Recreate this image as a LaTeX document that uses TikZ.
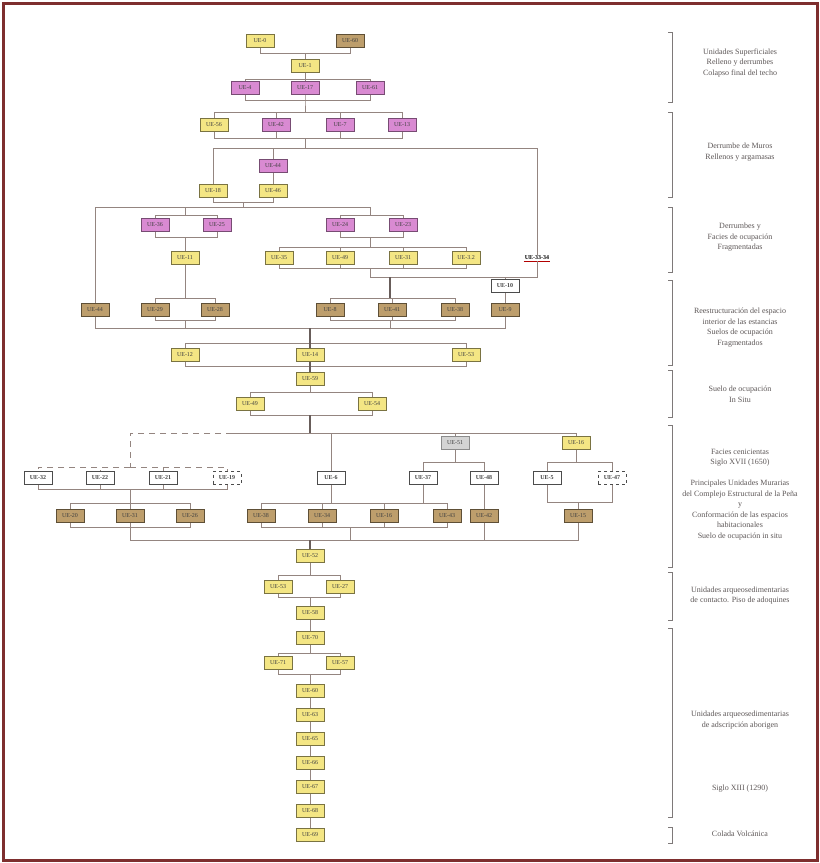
\documentclass[tikz,border=0pt]{standalone}
\usepackage{fontspec}
\setmainfont{Liberation Serif}
\usetikzlibrary{positioning}
\definecolor{framered}{HTML}{7E2E2E}
\definecolor{linkgray}{HTML}{948580}
\definecolor{ueyellow}{HTML}{F4E684}
\definecolor{uepink}{HTML}{D98AD2}
\definecolor{uebrown}{HTML}{BD9E6C}
\definecolor{uegray}{HTML}{D4D4D4}
\definecolor{labgray}{HTML}{5E5858}
\tikzset{
  ue/.style={draw=#1, line width=0.6pt, minimum width=28pt, minimum height=13pt,
    inner sep=1pt, font=\fontsize{6}{6.5}\selectfont, text=black!75},
  uey/.style={ue=ueyellow!50!black, fill=ueyellow},
  uep/.style={ue=uepink!55!black, fill=uepink},
  ueb/.style={ue=uebrown!50!black, fill=uebrown},
  ueg/.style={ue=black!45, fill=uegray},
  uew/.style={ue=black!70, fill=white, font=\fontsize{6}{6.5}\selectfont\bfseries},
  uewd/.style={uew, dashed},
  uetag/.style={inner sep=1pt, font=\fontsize{6}{6.5}\selectfont\bfseries},
  link/.style={draw=linkgray, line width=0.7pt},
  stem/.style={draw=linkgray!70!black, line width=1.3pt},
  brk/.style={draw=labgray!80, line width=0.7pt},
  phase/.style={font=\fontsize{8}{10.5}\selectfont, text=labgray, align=center}
}
\begin{document}
\begin{tikzpicture}[x=1pt,y=-1pt]
  \useasboundingbox (0,0) rectangle (820,863);
  \fill[white] (0,0) rectangle (820,863);
  \draw[framered, line width=3pt] (3,3) rectangle (817,860);

  % units
  \node[uey] (r1a) at (260,41) {UE-0};
  \node[ueb] (r1b) at (350,41) {UE-60};
  \node[uey] (r2) at (305,66) {UE-1};
  \node[uep] (r3a) at (245,88) {UE-4};
  \node[uep] (r3b) at (305,88) {UE-17};
  \node[uep] (r3c) at (370,88) {UE-61};
  \node[uey] (r4a) at (214,125) {UE-56};
  \node[uep] (r4b) at (276,125) {UE-42};
  \node[uep] (r4c) at (340,125) {UE-7};
  \node[uep] (r4d) at (402,125) {UE-13};
  \node[uep] (r5a) at (273,166) {UE-44};
  \node[uey] (r6a) at (213,191) {UE-18};
  \node[uey] (r6b) at (273,191) {UE-46};
  \node[uep] (r7a) at (155,225) {UE-36};
  \node[uep] (r7b) at (217,225) {UE-25};
  \node[uep] (r7c) at (340,225) {UE-24};
  \node[uep] (r7d) at (403,225) {UE-23};
  \node[uey] (r8a) at (185,258) {UE-11};
  \node[uey] (r8b) at (279,258) {UE-35};
  \node[uey] (r8c) at (340,258) {UE-49};
  \node[uey] (r8d) at (403,258) {UE-31};
  \node[uey] (r8e) at (466,258) {UE-3.2};
  \node[uetag] (r8f) at (537,258) {UE-33-34};
  \node[uew] (r9) at (505,286) {UE-10};
  \node[ueb] (r10a) at (95,310) {UE-44};
  \node[ueb] (r10b) at (155,310) {UE-29};
  \node[ueb] (r10c) at (215,310) {UE-28};
  \node[ueb] (r10d) at (330,310) {UE-8};
  \node[ueb] (r10e) at (392,310) {UE-41};
  \node[ueb] (r10f) at (455,310) {UE-38};
  \node[ueb] (r10g) at (505,310) {UE-9};
  \node[uey] (r11a) at (185,355) {UE-12};
  \node[uey] (r11b) at (310,355) {UE-14};
  \node[uey] (r11c) at (466,355) {UE-53};
  \node[uey] (r12) at (310,379) {UE-59};
  \node[uey] (r13a) at (250,404) {UE-49};
  \node[uey] (r13b) at (372,404) {UE-54};
  \node[ueg] (r14a) at (455,443) {UE-51};
  \node[uey] (r14b) at (576,443) {UE-16};
  \node[uew] (r15a) at (38,478) {UE-32};
  \node[uew] (r15b) at (100,478) {UE-22};
  \node[uew] (r15c) at (163,478) {UE-21};
  \node[uewd] (r15d) at (227,478) {UE-19};
  \node[uew] (r15e) at (331,478) {UE-6};
  \node[uew] (r15f) at (423,478) {UE-37};
  \node[uew] (r15g) at (484,478) {UE-48};
  \node[uew] (r15h) at (547,478) {UE-5};
  \node[uewd] (r15i) at (612,478) {UE-47};
  \node[ueb] (r16a) at (70,516) {UE-20};
  \node[ueb] (r16b) at (130,516) {UE-31};
  \node[ueb] (r16c) at (190,516) {UE-26};
  \node[ueb] (r16d) at (261,516) {UE-38};
  \node[ueb] (r16e) at (322,516) {UE-34};
  \node[ueb] (r16f) at (384,516) {UE-16};
  \node[ueb] (r16g) at (447,516) {UE-43};
  \node[ueb] (r16h) at (484,516) {UE-42};
  \node[ueb] (r16i) at (578,516) {UE-15};
  \node[uey] (r17) at (310,556) {UE-52};
  \node[uey] (r18a) at (278,587) {UE-53};
  \node[uey] (r18b) at (340,587) {UE-27};
  \node[uey] (r19) at (310,613) {UE-58};
  \node[uey] (r20) at (310,638) {UE-70};
  \node[uey] (r21a) at (278,663) {UE-71};
  \node[uey] (r21b) at (340,663) {UE-57};
  \node[uey] (r22) at (310,691) {UE-60};
  \node[uey] (r23) at (310,715) {UE-63};
  \node[uey] (r24) at (310,739) {UE-65};
  \node[uey] (r25) at (310,763) {UE-66};
  \node[uey] (r26) at (310,787) {UE-67};
  \node[uey] (r27) at (310,811) {UE-68};
  \node[uey] (r28) at (310,835) {UE-69};
  \draw[red!70!black, line width=0.6pt] (r8f.south west) -- (r8f.south east);

  % junctions
  \coordinate (j1) at (305,53);
  \coordinate (k2) at (305,79);
  \coordinate (j3) at (305,100);
  \coordinate (k3) at (305,112);
  \coordinate (j4) at (305,138);
  \coordinate (k4) at (305,148);
  \coordinate (j6) at (243,202);
  \coordinate (k6) at (243,207);
  \coordinate (m7a) at (185,215);
  \coordinate (m7c) at (370,215);
  \coordinate (j7a) at (185,237);
  \coordinate (j7c) at (370,237);
  \coordinate (k7c) at (370,247);
  \coordinate (j8) at (370,268);
  \coordinate (k8) at (370,277);
  \coordinate (m10) at (390,298);
  \coordinate (m10b) at (185,298);
  \coordinate (j10b) at (185,320);
  \coordinate (j10d) at (390,320);
  \coordinate (j10) at (310,328);
  \coordinate (k10) at (310,343);
  \coordinate (j11) at (310,366);
  \coordinate (k12) at (310,392);
  \coordinate (j13) at (310,415);
  \coordinate (k13) at (310,433);
  \coordinate (d13) at (232,433);
  \coordinate (m15) at (130,467);
  \coordinate (k14a) at (455,462);
  \coordinate (k14b) at (576,462);
  \coordinate (j15) at (130,489);
  \coordinate (k15) at (130,503);
  \coordinate (k15e) at (350,503);
  \coordinate (j15h) at (578,502);
  \coordinate (j16a) at (130,527);
  \coordinate (j16d) at (350,527);
  \coordinate (j16) at (310,540);
  \coordinate (k17) at (310,575);
  \coordinate (j18) at (310,597);
  \coordinate (k20) at (310,653);
  \coordinate (j21) at (310,674);

  \begin{scope}[link]
    \draw (r1a.south) |- (j1) -- (r2.north);
    \draw (r1b.south) |- (j1);
    \draw (r2.south) -- (k2) -| (r3a.north);
    \draw (k2) -| (r3c.north);
    \draw (k2) -- (r3b.north);
    \draw (r3a.south) |- (j3);
    \draw (r3c.south) |- (j3);
    \draw (r3b.south) -- (j3) -- (k3);
    \draw (k3) -| (r4a.north);
    \draw (k3) -| (r4b.north);
    \draw (k3) -| (r4c.north);
    \draw (k3) -| (r4d.north);
    \draw (r4a.south) |- (j4);
    \draw (r4b.south) |- (j4);
    \draw (r4c.south) |- (j4);
    \draw (r4d.south) |- (j4) -- (k4);
    \draw (k4) -| (r6a.north);
    \draw (k4) -| (r5a.north);
    \draw (k4) -| (r8f.north);
    \draw (r5a.south) -- (r6b.north);
    \draw (r6a.south) |- (j6);
    \draw (r6b.south) |- (j6) -- (k6);
    \draw (k6) -| (r10a.north);
    \draw (k6) -| (m7a) -| (r7a.north);
    \draw (m7a) -| (r7b.north);
    \draw (k6) -| (m7c) -| (r7c.north);
    \draw (m7c) -| (r7d.north);
    \draw (r7a.south) |- (j7a) -- (r8a.north);
    \draw (r7b.south) |- (j7a);
    \draw (r7c.south) |- (j7c) -- (k7c);
    \draw (r7d.south) |- (j7c);
    \draw (k7c) -| (r8b.north);
    \draw (k7c) -| (r8c.north);
    \draw (k7c) -| (r8d.north);
    \draw (k7c) -| (r8e.north);
    \draw (r8b.south) |- (j8);
    \draw (r8c.south) |- (j8);
    \draw (r8d.south) |- (j8);
    \draw (r8e.south) |- (j8) -- (k8);
    \draw (r8f.south) |- (k8);
    \draw (k8) -| (r9.north);
    \draw (r9.south) -- (r10g.north);
    \draw (k8) -| (m10) -| (r10d.north);
    \draw (m10) -| (r10e.north);
    \draw (m10) -| (r10f.north);
    \draw (r8a.south) -- (m10b) -| (r10b.north);
    \draw (m10b) -| (r10c.north);
    \draw (r10b.south) |- (j10b);
    \draw (r10c.south) |- (j10b);
    \draw (r10d.south) |- (j10d);
    \draw (r10e.south) |- (j10d);
    \draw (r10f.south) |- (j10d);
    \draw (r10a.south) |- (j10);
    \draw (j10b) |- (j10);
    \draw (j10d) |- (j10);
    \draw (r10g.south) |- (j10);
    \draw (k10) -| (r11a.north);
    \draw (k10) -| (r11c.north);
    \draw (r11a.south) |- (j11);
    \draw (r11c.south) |- (j11);
    \draw (r12.south) -- (k12) -| (r13a.north);
    \draw (k12) -| (r13b.north);
    \draw (r13a.south) |- (j13);
    \draw (r13b.south) |- (j13);
    \draw (k13) -- (d13);
    \draw (k13) -| (r15e.north);
    \draw (k13) -| (r14a.north);
    \draw (k13) -| (r14b.north);
    \draw (r14a.south) -- (k14a) -| (r15f.north);
    \draw (k14a) -| (r15g.north);
    \draw (r14b.south) -- (k14b) -| (r15h.north);
    \draw (k14b) -| (r15i.north);
    \draw (r15a.south) |- (j15);
    \draw (r15b.south) |- (j15);
    \draw (r15c.south) |- (j15);
    \draw (r15d.south) |- (j15) -- (k15);
    \draw (k15) -| (r16a.north);
    \draw (k15) -- (r16b.north);
    \draw (k15) -| (r16c.north);
    \draw (r15e.south) |- (k15e);
    \draw (r15f.south) |- (k15e);
    \draw (k15e) -| (r16d.north);
    \draw (k15e) -| (r16e.north);
    \draw (k15e) -| (r16f.north);
    \draw (k15e) -| (r16g.north);
    \draw (r15g.south) -- (r16h.north);
    \draw (r15h.south) |- (j15h);
    \draw (r15i.south) |- (j15h) -- (r16i.north);
    \draw (r16a.south) |- (j16a);
    \draw (r16b.south) -- (j16a);
    \draw (r16c.south) |- (j16a);
    \draw (r16d.south) |- (j16d);
    \draw (r16e.south) |- (j16d);
    \draw (r16f.south) |- (j16d);
    \draw (r16g.south) |- (j16d);
    \draw (j16a) |- (j16);
    \draw (j16d) |- (j16);
    \draw (r16h.south) |- (j16);
    \draw (r16i.south) |- (j16);
    \draw (r17.south) -- (k17) -| (r18a.north);
    \draw (k17) -| (r18b.north);
    \draw (r18a.south) |- (j18);
    \draw (r18b.south) |- (j18) -- (r19.north);
    \draw (r19.south) -- (r20.north);
    \draw (r20.south) -- (k20) -| (r21a.north);
    \draw (k20) -| (r21b.north);
    \draw (r21a.south) |- (j21);
    \draw (r21b.south) |- (j21) -- (r22.north);
    \draw (r22.south) -- (r23.north);
    \draw (r23.south) -- (r24.north);
    \draw (r24.south) -- (r25.north);
    \draw (r25.south) -- (r26.north);
    \draw (r26.south) -- (r27.north);
    \draw (r27.south) -- (r28.north);
  \end{scope}
  \begin{scope}[link, dash pattern=on 6pt off 5pt]
    \draw (d13) -| (m15);
    \draw (m15) -| (r15a.north);
    \draw (m15) -| (r15b.north);
    \draw (m15) -| (r15c.north);
    \draw (m15) -| (r15d.north);
  \end{scope}
  % main stems
  \draw[stem] (j10) -- (k10) -- (r11b.north);
  \draw[stem] (r11b.south) -- (j11) -- (r12.north);
  \draw[stem] (j13) -- (k13);
  \draw[stem] (j16) -- (r17.north);
  \draw[stem] (k8 -| m10) -- (m10);

  % phases
  \draw[brk] (668,32) -- (672,32) -- (672,102) -- (668,102);
  \draw[brk] (668,112) -- (672,112) -- (672,197) -- (668,197);
  \draw[brk] (668,207) -- (672,207) -- (672,272) -- (668,272);
  \draw[brk] (668,280) -- (672,280) -- (672,365) -- (668,365);
  \draw[brk] (668,370) -- (672,370) -- (672,417) -- (668,417);
  \draw[brk] (668,425) -- (672,425) -- (672,567) -- (668,567);
  \draw[brk] (668,572) -- (672,572) -- (672,620) -- (668,620);
  \draw[brk] (668,628) -- (672,628) -- (672,817) -- (668,817);
  \draw[brk] (668,827) -- (672,827) -- (672,843) -- (668,843);
  \node[phase] (t1) at (740,63) {Unidades Superficiales\\Relleno y derrumbes\\Colapso final del techo};
  \node[phase] (t2) at (740,152) {Derrumbe de Muros\\Rellenos y argamasas};
  \node[phase] (t3) at (740,237.5) {Derrumbes y\\Facies de ocupación\\Fragmentadas};
  \node[phase] (t4) at (740,327.5) {Reestructuración del espacio\\interior de las estancias\\Suelos de ocupación\\Fragmentados};
  \node[phase] (t5) at (740,394.5) {Suelo de ocupación\\In Situ};
  \node[phase] (t6a) at (740,457.5) {Facies cenicientas\\Siglo XVII (1650)};
  \node[phase] (t6b) at (740,510) {Principales Unidades Murarias\\del Complejo Estructural de la Peña\\y\\Conformación de las espacios\\habitacionales\\Suelo de ocupación in situ};
  \node[phase] (t7) at (740,595.5) {Unidades arqueosedimentarias\\de contacto. Piso de adoquines};
  \node[phase] (t8a) at (740,720) {Unidades arqueosedimentarias\\de adscripción aborigen};
  \node[phase] (t8b) at (740,789) {Siglo XIII (1290)};
  \node[phase] (t9) at (740,834) {Colada Volcánica};
\end{tikzpicture}
\end{document}
